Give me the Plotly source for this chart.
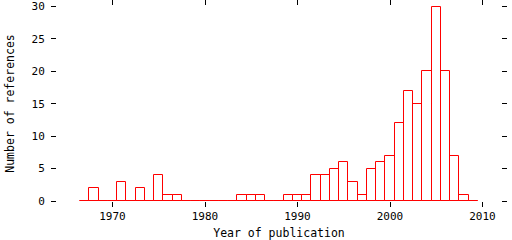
import plotly.graph_objects as go

years = list(range(1967, 2010))
counts = [0, 2, 0, 0, 3, 0, 2, 0, 4, 1, 1,
          0, 0, 0, 0, 0, 0,
          1, 1, 1, 0, 0, 1, 1, 1,
          4, 4, 5, 6, 3, 1, 5, 6, 7, 12, 17, 15, 20, 30, 20, 7, 1, 0]
x_ticks = [1970, 1980, 1990, 2000, 2010]
y_ticks = [0, 5, 10, 15, 20, 25, 30]

RED = "#ff0000"
FONT = "DejaVu Sans Mono"

fig = go.Figure()
fig.add_trace(go.Bar(
    x=years, y=counts, width=1,
    marker=dict(color="rgba(0,0,0,0)", line=dict(color=RED, width=1)),
    cliponaxis=False, showlegend=False, hoverinfo="skip",
))
fig.add_trace(go.Scatter(
    x=[years[0] - 0.5, years[-1] + 0.5], y=[0, 0], mode="lines",
    line=dict(color=RED, width=1), showlegend=False, hoverinfo="skip",
    cliponaxis=False,
))

axis_common = dict(
    ticks="outside", ticklen=5, tickwidth=1, tickcolor="black",
    mirror="ticks", showline=False, showgrid=False, zeroline=False,
    ticklabeloverflow="allow", automargin=False,
    tickfont=dict(family=FONT, size=11, color="black"),
)

fig.update_layout(
    width=512, height=240,
    margin=dict(l=57, r=11, t=6, b=39),
    paper_bgcolor="white", plot_bgcolor="white",
    bargap=0,
    xaxis=dict(range=[1964, 2012], tickvals=x_ticks,
               title=dict(text="Year of publication",
                          font=dict(family=FONT, size=11.5, color="black"),
                          standoff=6),
               **axis_common),
    yaxis=dict(range=[0, 30.08], tickvals=y_ticks, ticklabelstandoff=4,
               title=dict(text="Number of references",
                          font=dict(family=FONT, size=11.5, color="black"),
                          standoff=14),
               **axis_common),
)

fig.write_html("out.html")
